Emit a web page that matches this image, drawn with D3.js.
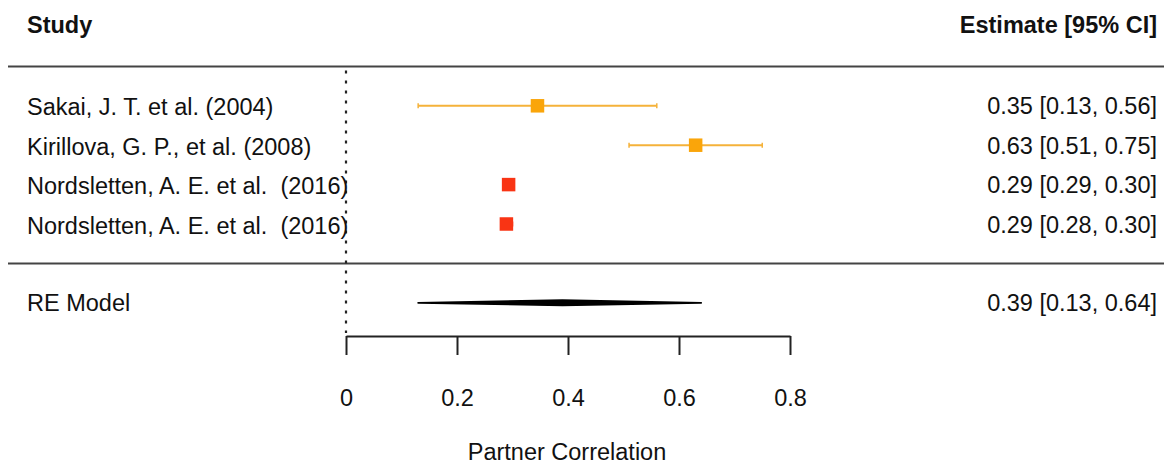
<!DOCTYPE html>
<html>
<head>
<meta charset="utf-8">
<script src="https://cdn.jsdelivr.net/npm/d3@7"></script>
<style>
  html, body { margin: 0; padding: 0; background: #fff; }
  svg { display: block; font-family: "Liberation Sans", Arial, sans-serif; }
  svg text { white-space: pre; }
</style>
</head>
<body>
<svg id="chart" width="1164" height="466"></svg>
<script>
// ---- data ----
const studies = [
  "Sakai, J. T. et al. (2004)",
  "Kirillova, G. P., et al. (2008)",
  "Nordsletten, A. E. et al.  (2016)",
  "Nordsletten, A. E. et al.  (2016)"
];
const estimates = [0.345, 0.63, 0.293, 0.289];
const lower = [0.13, 0.51, 0.29, 0.28];
const upper = [0.56, 0.75, 0.30, 0.30];
const estimateLabels = [
  "0.35 [0.13, 0.56]",
  "0.63 [0.51, 0.75]",
  "0.29 [0.29, 0.30]",
  "0.29 [0.28, 0.30]"
];
const groups = ["orange", "orange", "red", "red"];
const reModel = { label: "RE Model", est: 0.39, lo: 0.13, hi: 0.64, text: "0.39 [0.13, 0.64]" };
const xTicks = [0, 0.2, 0.4, 0.6, 0.8];
const xTickLabels = ["0", "0.2", "0.4", "0.6", "0.8"];
const headerLeft = "Study";
const headerRight = "Estimate [95% CI]";
const xTitle = "Partner Correlation";

// ---- layout ----
const svg = d3.select("#chart");
const W = 1164, H = 466;
const fontSize = 23.5;
const textColor = "#111";
const colors = { orange: "#FAA50A", red: "#F93414" };
const lineColors = { orange: "#F5B23A", red: "#F93414" };

const x = d3.scaleLinear().domain([0, 0.8]).range([346, 790]);
// row index -> y ; -1 = header line, 4 = separator, 5 = RE model
const y = d3.scaleLinear().domain([0, 1]).range([105.8, 145.2]);

// header
svg.append("text").attr("x", 27).attr("y", 33)
  .attr("font-size", fontSize).attr("font-weight", "bold").attr("fill", textColor)
  .text(headerLeft);
svg.append("text").attr("x", 1157).attr("y", 33).attr("text-anchor", "end")
  .attr("font-size", fontSize).attr("font-weight", "bold").attr("fill", textColor)
  .text(headerRight);

// horizontal rules
[-1, 4].forEach(r => {
  svg.append("line")
    .attr("x1", 8).attr("x2", W)
    .attr("y1", y(r)).attr("y2", y(r))
    .attr("stroke", "#444").attr("stroke-width", 2);
});

// reference (dotted) line at 0
svg.append("line")
  .attr("x1", x(0)).attr("x2", x(0))
  .attr("y1", y(-1) + 4).attr("y2", 333)
  .attr("stroke", "#222").attr("stroke-width", 2.2)
  .attr("stroke-dasharray", "3,7");

// rows
const rows = svg.append("g").selectAll("g").data(studies).join("g");
rows.append("text")
  .attr("x", 27).attr("y", (d, i) => y(i) + 9.5)
  .attr("font-size", fontSize).attr("fill", textColor)
  .text(d => d);
rows.append("text")
  .attr("x", 1157).attr("y", (d, i) => y(i) + 8.5).attr("text-anchor", "end")
  .attr("font-size", fontSize).attr("fill", textColor)
  .text((d, i) => estimateLabels[i]);
// CI lines
rows.append("line")
  .attr("x1", (d, i) => x(lower[i])).attr("x2", (d, i) => x(upper[i]))
  .attr("y1", (d, i) => y(i)).attr("y2", (d, i) => y(i))
  .attr("stroke", (d, i) => lineColors[groups[i]]).attr("stroke-width", 2);
// caps
["lo", "hi"].forEach(k => {
  rows.append("line")
    .attr("x1", (d, i) => x(k === "lo" ? lower[i] : upper[i]))
    .attr("x2", (d, i) => x(k === "lo" ? lower[i] : upper[i]))
    .attr("y1", (d, i) => y(i) - 2.5).attr("y2", (d, i) => y(i) + 2.5)
    .attr("stroke", (d, i) => lineColors[groups[i]]).attr("stroke-width", 1.5);
});
// squares
const sq = 13.5;
rows.append("rect")
  .attr("x", (d, i) => x(estimates[i]) - sq / 2)
  .attr("y", (d, i) => y(i) - sq / 2)
  .attr("width", sq).attr("height", sq)
  .attr("fill", (d, i) => colors[groups[i]]);

// RE model
const yRE = y(5);
svg.append("text").attr("x", 27).attr("y", yRE + 8.5)
  .attr("font-size", fontSize).attr("fill", textColor).text(reModel.label);
svg.append("text").attr("x", 1157).attr("y", yRE + 8.5).attr("text-anchor", "end")
  .attr("font-size", fontSize).attr("fill", textColor).text(reModel.text);
const dh = 2.6;
svg.append("polygon")
  .attr("points", [
    [x(reModel.lo), yRE], [x(reModel.est), yRE - dh],
    [x(reModel.hi), yRE], [x(reModel.est), yRE + dh]
  ].map(p => p.join(",")).join(" "))
  .attr("fill", "#000").attr("stroke", "#000").attr("stroke-width", 1.8)
  .attr("stroke-linejoin", "round");

// axis
const axis = d3.axisBottom(x)
  .tickValues(xTicks)
  .tickFormat((d, i) => xTickLabels[i])
  .tickSize(19).tickSizeOuter(0).tickPadding(34);
const gAxis = svg.append("g").attr("transform", "translate(0,336)").call(axis);
gAxis.select(".domain").attr("stroke", "#222").attr("stroke-width", 2);
gAxis.selectAll(".tick line").attr("stroke", "#222").attr("stroke-width", 2);
gAxis.selectAll(".tick text")
  .attr("font-size", fontSize).attr("fill", textColor)
  .attr("font-family", "Liberation Sans, Arial, sans-serif");

svg.append("text").attr("x", 567).attr("y", 460).attr("text-anchor", "middle")
  .attr("font-size", fontSize).attr("fill", textColor).text(xTitle);
</script>
</body>
</html>
